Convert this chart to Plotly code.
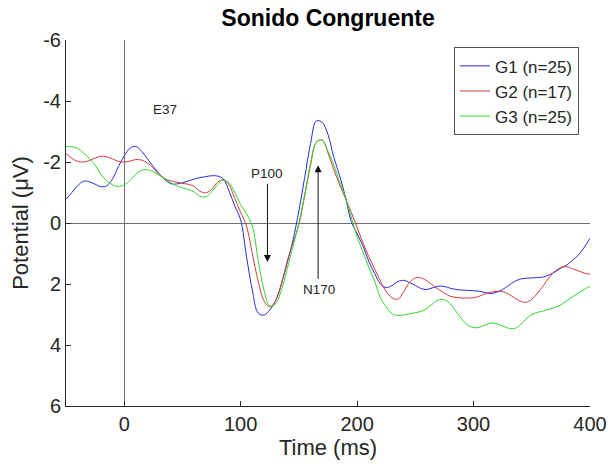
import plotly.graph_objects as go

# Time axis (ms), 5 ms resolution
time_ms = list(range(-50, 405, 5))

# Grand-average ERP at electrode E37 (µV, negative up)
g1 = [-0.77, -1.00, -1.22, -1.37, -1.35, -1.27, -1.19, -1.22, -1.45, -1.85,
      -2.20, -2.45, -2.51, -2.35, -2.10, -1.85, -1.62, -1.42, -1.29, -1.28,
      -1.32, -1.38, -1.44, -1.49, -1.52, -1.55, -1.54, -1.45, -1.05, -0.55,
      -0.10, 1.10, 2.20, 2.95, 3.02, 2.85, 2.55, 2.00, 1.30, 0.55,
      -0.40, -1.50, -2.60, -3.35, -3.30, -2.90, -2.15, -1.55, -0.85, -0.05,
      0.35, 0.75, 1.25, 1.65, 2.00, 2.12, 2.05, 1.92, 1.88, 1.95,
      2.05, 2.15, 2.18, 2.12, 2.07, 2.08, 2.14, 2.18, 2.20, 2.21,
      2.22, 2.24, 2.28, 2.31, 2.27, 2.18, 2.05, 1.92, 1.84, 1.81,
      1.80, 1.79, 1.77, 1.70, 1.60, 1.48, 1.38, 1.22, 1.05, 0.80,
      0.50]

g2 = [-2.27, -2.12, -2.02, -2.00, -2.05, -2.13, -2.19, -2.17, -2.10, -2.02,
      -2.00, -2.03, -2.08, -2.06, -1.97, -1.80, -1.58, -1.45, -1.38, -1.34,
      -1.30, -1.27, -1.20, -1.04, -0.99, -1.10, -1.33, -1.42, -1.25, -0.80,
      -0.35, 0.10, 1.00, 1.90, 2.55, 2.75, 2.55, 2.00, 1.25, 0.65,
      0.05, -0.90, -1.90, -2.65, -2.72, -2.30, -1.75, -1.25, -0.80, -0.35,
      0.15, 0.65, 1.10, 1.50, 1.90, 2.25, 2.45, 2.50, 2.25, 1.95,
      1.80, 1.80, 1.90, 2.04, 2.18, 2.30, 2.40, 2.44, 2.46, 2.46,
      2.45, 2.40, 2.32, 2.27, 2.24, 2.25, 2.33, 2.45, 2.56, 2.60,
      2.50, 2.30, 2.05, 1.78, 1.58, 1.46, 1.43, 1.50, 1.57, 1.64,
      1.68]

g3 = [-2.51, -2.50, -2.45, -2.30, -2.12, -1.90, -1.60, -1.38, -1.25, -1.20,
      -1.25, -1.40, -1.60, -1.73, -1.75, -1.68, -1.57, -1.45, -1.32, -1.22,
      -1.15, -1.10, -1.02, -0.88, -0.86, -1.02, -1.25, -1.40, -1.32, -1.00,
      -0.60, -0.30, 0.10, 1.20, 2.20, 2.72, 2.65, 2.20, 1.50, 0.75,
      0.00, -0.95, -1.95, -2.65, -2.72, -2.35, -1.90, -1.35, -0.85, -0.20,
      0.45, 0.95, 1.45, 1.90, 2.45, 2.75, 2.98, 3.03, 3.01, 2.98,
      2.94, 2.90, 2.80, 2.65, 2.52, 2.52, 2.65, 2.90, 3.15, 3.35,
      3.43, 3.42, 3.34, 3.28, 3.30, 3.38, 3.45, 3.46, 3.35, 3.15,
      3.00, 2.93, 2.88, 2.82, 2.77, 2.68, 2.55, 2.42, 2.30, 2.18,
      2.08]

series_names = ["G1 (n=25)", "G2 (n=17)", "G3 (n=25)"]
series_colors = ["#2a2ae0", "#d83a3a", "#2ed82e"]

y_ticks = [-6, -4, -2, 0, 2, 4, 6]
y_tick_text = ["-6", "-4", "-2", "0", "2", "4", "6"]
x_ticks = [0, 100, 200, 300, 400]

FONT = "Liberation Sans, Arial, Helvetica, sans-serif"
INK = "#262626"

fig = go.Figure()
for vals, name, col in zip([g1, g2, g3], series_names, series_colors):
    fig.add_trace(go.Scatter(x=time_ms, y=vals, mode="lines", name=name,
                             line=dict(color=col, width=1, shape="spline")))

# Peak labels with arrows
fig.add_annotation(x=34.6, y=-3.73, text="E37", showarrow=False,
                   font=dict(family=FONT, size=13.5, color=INK))
fig.add_annotation(x=123, y=-1.62, text="P100", showarrow=False,
                   font=dict(family=FONT, size=13.5, color=INK))
fig.add_annotation(x=123, y=1.28, ax=123, ay=-1.33, axref="x", ayref="y",
                   xref="x", yref="y", text="", showarrow=True,
                   arrowhead=2, arrowsize=1.4, arrowwidth=1, arrowcolor="#111")
fig.add_annotation(x=167.3, y=2.18, text="N170", showarrow=False,
                   font=dict(family=FONT, size=13.5, color=INK))
fig.add_annotation(x=166.5, y=-1.89, ax=166.5, ay=1.88, axref="x", ayref="y",
                   xref="x", yref="y", text="", showarrow=True,
                   arrowhead=2, arrowsize=1.4, arrowwidth=1, arrowcolor="#111")

fig.update_layout(
    width=608, height=468,
    margin=dict(l=66, r=18, t=40, b=62),
    paper_bgcolor="white", plot_bgcolor="white",
    font=dict(family=FONT, color=INK),
    title=dict(text="<b>Sonido Congruente</b>", x=(66 + 590) / 2 / 608,
               xanchor="center", y=1 - 18 / 468, yanchor="middle",
               font=dict(family=FONT, size=23, color="#000")),
    showlegend=True,
    legend=dict(x=0.979, y=0.98, xanchor="right", yanchor="top",
                bgcolor="white", bordercolor="#555", borderwidth=1,
                font=dict(family=FONT, size=17, color=INK),
                tracegroupgap=0, itemwidth=30),
)

fig.update_xaxes(range=[-50, 400], tickvals=x_ticks, ticks="inside", ticklen=5,
                 tickcolor=INK, showline=True, linecolor=INK, linewidth=1,
                 mirror=False, showgrid=False, zeroline=True, automargin=False,
                 zerolinecolor="#707070", zerolinewidth=1,
                 tickfont=dict(family=FONT, size=20, color=INK),
                 title=dict(text="Time (ms)", standoff=4,
                            font=dict(family=FONT, size=22, color=INK)))
fig.update_yaxes(range=[6, -6], tickvals=y_ticks, ticktext=y_tick_text,
                 ticks="inside", ticklen=5, tickcolor=INK, showline=True,
                 linecolor=INK, linewidth=1, mirror=False, showgrid=False,
                 zeroline=True, zerolinecolor="#707070", zerolinewidth=1,
                 automargin=False,
                 tickfont=dict(family=FONT, size=20, color=INK),
                 title=dict(text="Potential (μV)", standoff=8,
                            font=dict(family=FONT, size=22, color=INK)))

fig.write_html("out.html")
